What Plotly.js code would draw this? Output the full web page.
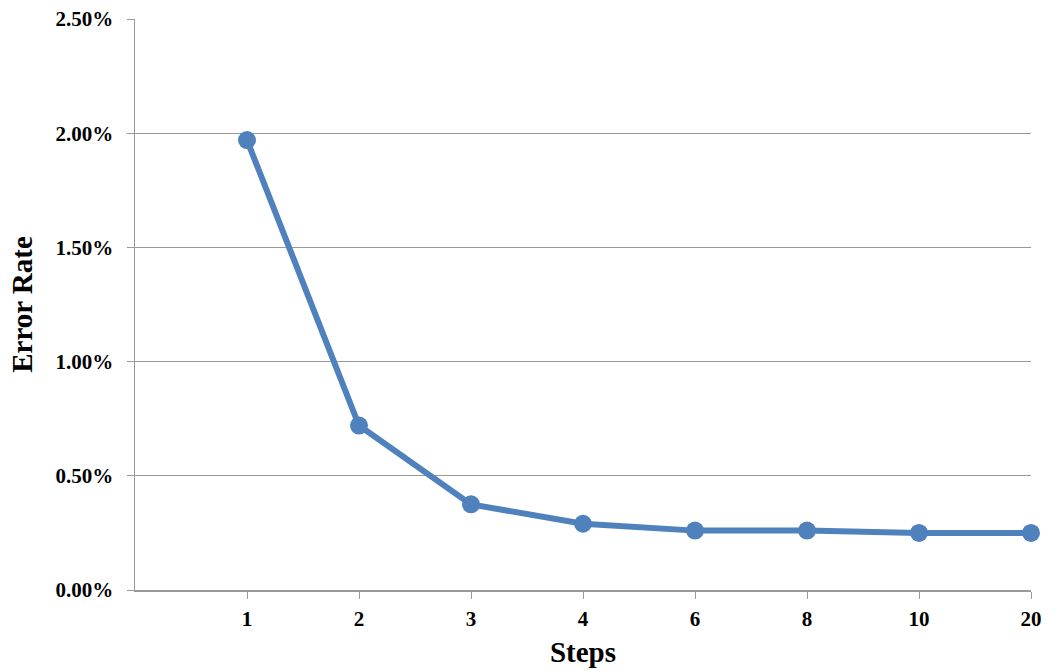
<!DOCTYPE html>
<html><head><meta charset="utf-8">
<script src="https://cdn.plot.ly/plotly-3.0.1.min.js"></script>
<style>html,body{margin:0;padding:0;background:#fff}#chart{width:1053px;height:671px}</style>
</head><body><div id="chart"></div>
<script>
const steps = ["1","2","3","4","6","8","10","20"];
const errorRate = [0.0197, 0.0072, 0.00375, 0.0029, 0.0026, 0.0026, 0.0025, 0.0025];
const yTicks = [0, 0.005, 0.01, 0.015, 0.02, 0.025];

const xPos = steps.map((s, i) => i + 1);
const font = {family: "Liberation Serif, Times New Roman, serif", color: "#000"};

Plotly.newPlot("chart", [{
  x: xPos, y: errorRate, type: "scatter", mode: "lines+markers",
  line: {color: "#4F81BD", width: 6},
  marker: {color: "#4F81BD", size: 18},
  hoverinfo: "skip", cliponaxis: false
}], {
  width: 1053, height: 671,
  margin: {l: 135, r: 22, t: 19, b: 81},
  paper_bgcolor: "#fff", plot_bgcolor: "#fff",
  showlegend: false,
  xaxis: {
    range: [0, steps.length], tickvals: xPos, ticktext: steps,
    showgrid: false, zeroline: false, showline: true, linecolor: "#999", linewidth: 1.5,
    ticks: "outside", ticklen: 7, tickcolor: "#999", tickwidth: 1,
    tickfont: Object.assign({size: 21, weight: "bold"}, font),
    ticklabelstandoff: 2,
    title: {text: "<b>Steps</b>", font: Object.assign({size: 29}, font), standoff: 12},
    fixedrange: true
  },
  yaxis: {
    range: [0, 0.025], tickvals: yTicks, tickformat: ".2%",
    showgrid: true, gridcolor: "#999", gridwidth: 1,
    zeroline: false, showline: true, linecolor: "#999", linewidth: 1.5,
    ticks: "outside", ticklen: 7, tickcolor: "#999",
    tickfont: Object.assign({size: 21, weight: "bold"}, font),
    ticklabelstandoff: 9,
    title: {text: "<b>Error Rate</b>", font: Object.assign({size: 29}, font), standoff: 14},
    fixedrange: true
  }
}, {displayModeBar: false, staticPlot: true});
</script></body></html>
